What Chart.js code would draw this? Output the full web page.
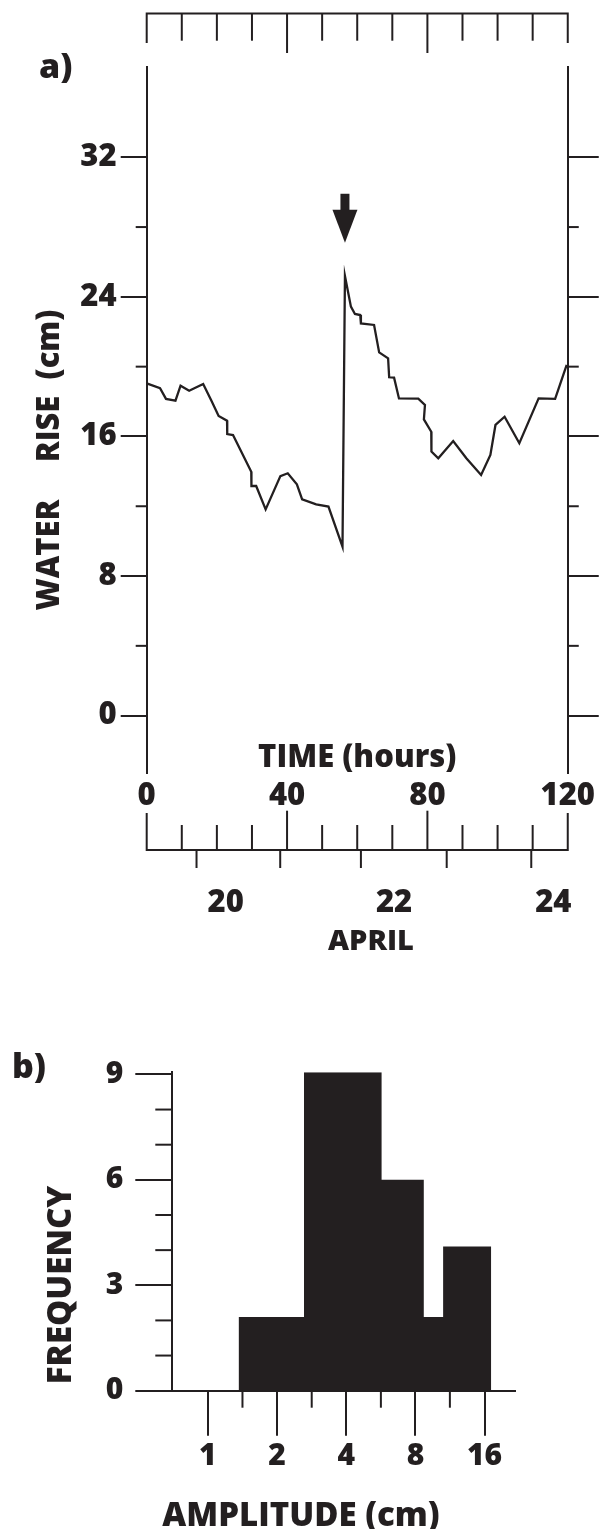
<!DOCTYPE html>
<html>
<head>
<meta charset="utf-8">
<script src="https://cdn.jsdelivr.net/npm/chart.js@4.4.1/dist/chart.umd.min.js"></script>
<style>
  html, body { margin: 0; padding: 0; background: #fff; }
  canvas { display: block; }
</style>
</head>
<body>
<canvas id="riseChart" width="600" height="960"></canvas>
<canvas id="ampChart" width="600" height="569"></canvas>
<script>
// panel a: water rise against time
const hours = [0, 3.8, 5.5, 8.2, 9.65, 12.1, 16.1, 18.45, 20.5, 22.9, 22.95, 24.6, 29.8, 29.85, 31.2, 33.9,
  38.1, 40.2, 42.8, 44.3, 48.3, 51.8, 55.8, 56.5, 58.2, 59.35, 60.85, 61.05, 64.8, 66.25, 68.8, 69.1,
  70.5, 71.9, 77.4, 79.3, 79.0, 81.1, 81.15, 83.1, 87.35, 91.1, 95.3, 97.95, 99.4, 102.0, 106.2, 111.7, 116.4, 119.7];
const rise = [19.04, 18.76, 18.15, 18.05, 18.91, 18.62, 19.01, 18.05, 17.17, 16.9, 16.14, 16.08, 13.98, 13.16, 13.16, 11.82,
  13.73, 13.89, 13.26, 12.4, 12.11, 11.98, 9.68, 25.2, 23.44, 23.02, 22.96, 22.48, 22.39, 20.82, 20.48, 19.39,
  19.37, 18.18, 18.17, 17.8, 16.98, 16.27, 15.13, 14.75, 15.74, 14.75, 13.79, 14.94, 16.66, 17.13, 15.61, 18.18, 18.15, 20.1];

const riseMajor = [0, 8, 16, 24, 32];
const riseMinor = [4, 12, 20, 28];
const hourLabels = [0, 40, 80, 120];
const hourTicks = [0, 10, 20, 30, 40, 50, 60, 70, 80, 90, 100, 110, 120];
const hourLong = [40, 80];
const dayTicks = [14.2, 38.05, 61.05, 85.5, 109.6];
const dayLabels = ['20', '22', '24'];
const dayLabelHours = [22.5, 70.5, 115.9];
const arrowAt = { x: 56.5, y: 27.1 };

// panel b: amplitude histogram
const binEdges = [1.36, 2.62, 5.70, 8.70, 10.56, 17.1];
const frequency = [2.1, 9.1, 6.0, 2.1, 4.1];
const ampLabels = [1, 2, 4, 8, 16];
const ampMinor = [1.414, 2.83, 5.66, 11.3];
const freqMajor = [0, 3, 6, 9];
const freqMinor = [1, 2, 4, 5, 7, 8];

const ink = '#231f20';
const fontFam = '"Open Sans", sans-serif';
Chart.defaults.font.family = fontFam;
Chart.defaults.color = ink;

function boldFont(size) { return '800 ' + size + 'px ' + fontFam; }

function line(ctx, x1, y1, x2, y2) {
  ctx.beginPath();
  ctx.moveTo(x1, y1);
  ctx.lineTo(x2, y2);
  ctx.stroke();
}

const riseFrame = {
  id: 'riseFrame',
  afterDraw(chart) {
    const ctx = chart.ctx;
    const x = chart.scales.x, y = chart.scales.y;
    const area = chart.chartArea;
    ctx.save();
    ctx.strokeStyle = ink;
    ctx.fillStyle = ink;
    ctx.lineWidth = 2;

    // minor ticks on both sides
    riseMinor.forEach(v => {
      const py = y.getPixelForValue(v);
      line(ctx, area.left - 11, py, area.left, py);
      line(ctx, area.right, py, area.right + 11, py);
    });

    const x0 = x.getPixelForValue(0), x1 = x.getPixelForValue(120);

    // top hour bar
    const topY = 13.5;
    ctx.beginPath();
    ctx.moveTo(x0, 43); ctx.lineTo(x0, topY); ctx.lineTo(x1, topY); ctx.lineTo(x1, 43);
    ctx.stroke();
    hourTicks.slice(1, -1).forEach(h => {
      const px = x.getPixelForValue(h);
      line(ctx, px, topY, px, hourLong.includes(h) ? 53 : 40.7);
    });

    // bottom hour / date bar
    const botY = 850;
    ctx.beginPath();
    ctx.moveTo(x0, 813); ctx.lineTo(x0, botY); ctx.lineTo(x1, botY); ctx.lineTo(x1, 813);
    ctx.stroke();
    hourTicks.slice(1, -1).forEach(h => {
      const px = x.getPixelForValue(h);
      line(ctx, px, botY, px, hourLong.includes(h) ? 810.7 : 825);
    });
    dayTicks.forEach(h => {
      const px = x.getPixelForValue(h);
      line(ctx, px, botY, px, 868);
    });

    // arrow marking the jump
    const ax = x.getPixelForValue(arrowAt.x), ay = y.getPixelForValue(arrowAt.y);
    ctx.fillRect(ax - 4.5, ay - 49, 9, 17);
    ctx.beginPath();
    ctx.moveTo(ax - 12.5, ay - 33);
    ctx.lineTo(ax + 12.5, ay - 33);
    ctx.lineTo(ax, ay);
    ctx.closePath();
    ctx.fill();

    // texts
    ctx.textBaseline = 'alphabetic';
    ctx.textAlign = 'left';
    ctx.font = boldFont(34);
    ctx.fillText('a)', 39, 78);

    ctx.textAlign = 'center';
    ctx.font = boldFont(31);
    ctx.fillText('TIME (hours)', (area.left + area.right) / 2, 767);
    dayLabels.forEach((t, i) => ctx.fillText(t, x.getPixelForValue(dayLabelHours[i]), 912));
    ctx.font = boldFont(29);
    ctx.fillText('APRIL', 371, 950);

    ctx.save();
    ctx.translate(50, 0);
    ctx.rotate(-Math.PI / 2);
    ctx.textBaseline = 'middle';
    ctx.font = boldFont(31);
    ctx.fillText('WATER', -555, 0);
    ctx.fillText('RISE', -429, 0);
    ctx.fillText('(cm)', -344.5, 0);
    ctx.restore();

    ctx.restore();
  }
};

new Chart(document.getElementById('riseChart'), {
  type: 'line',
  data: {
    datasets: [{
      data: hours.map((h, i) => ({ x: h, y: rise[i] })),
      borderColor: ink,
      borderWidth: 2.3,
      pointRadius: 0,
      tension: 0,
      fill: false
    }]
  },
  options: {
    responsive: false,
    animation: false,
    events: [],
    layout: { padding: { top: 66.7, left: 0, right: 0, bottom: 0 } },
    plugins: { legend: { display: false }, tooltip: { enabled: false } },
    scales: {
      x: {
        type: 'linear',
        min: 0, max: 120,
        afterBuildTicks: s => { s.ticks = hourLabels.map(v => ({ value: v })); },
        afterFit: s => { s.height = 960 - 772.7; },
        grid: { display: false, drawTicks: false },
        border: { display: false },
        ticks: { font: { size: 31, weight: '800' }, color: ink, padding: 5, autoSkip: false, maxRotation: 0 }
      },
      y: {
        position: 'left',
        min: -3.27, max: 37.19,
        afterBuildTicks: s => { s.ticks = riseMajor.map(v => ({ value: v })); },
        afterFit: s => { s.width = 146.7; },
        grid: { drawOnChartArea: false, tickLength: 26, color: ink, lineWidth: 2 },
        border: { display: true, color: ink, width: 2 },
        ticks: { font: { size: 31, weight: '800' }, color: ink, padding: 4 }
      },
      y2: {
        position: 'right',
        min: -3.27, max: 37.19,
        afterBuildTicks: s => { s.ticks = riseMajor.map(v => ({ value: v })); },
        afterFit: s => { s.width = 600 - 569.5; },
        grid: { drawOnChartArea: false, tickLength: 31, color: ink, lineWidth: 2 },
        border: { display: true, color: ink, width: 2 },
        ticks: { display: false }
      }
    }
  },
  plugins: [riseFrame]
});

// histogram outline built from bin edges
const histPoints = [{ x: binEdges[0], y: 0 }];
frequency.forEach((f, i) => {
  histPoints.push({ x: binEdges[i], y: f });
  histPoints.push({ x: binEdges[i + 1], y: f });
});
histPoints.push({ x: binEdges[binEdges.length - 1], y: 0 });

const ampFrame = {
  id: 'ampFrame',
  afterDraw(chart) {
    const ctx = chart.ctx;
    const x = chart.scales.x, y = chart.scales.y;
    const area = chart.chartArea;
    ctx.save();
    ctx.strokeStyle = ink;
    ctx.fillStyle = ink;
    ctx.lineWidth = 2;
    freqMinor.forEach(v => {
      const py = y.getPixelForValue(v);
      line(ctx, area.left - 17, py, area.left, py);
    });
    ampMinor.forEach(v => {
      const px = x.getPixelForValue(v);
      line(ctx, px, area.bottom, px, area.bottom + 17);
    });

    ctx.textBaseline = 'alphabetic';
    ctx.textAlign = 'left';
    ctx.font = boldFont(34);
    ctx.fillText('b)', 12, 118);

    ctx.textAlign = 'center';
    ctx.font = boldFont(33);
    ctx.fillText('AMPLITUDE (cm)', 301, 566);

    ctx.save();
    ctx.translate(62, 325);
    ctx.rotate(-Math.PI / 2);
    ctx.textBaseline = 'middle';
    ctx.fillText('FREQUENCY', 0, 0);
    ctx.restore();
    ctx.restore();
  }
};

new Chart(document.getElementById('ampChart'), {
  type: 'line',
  data: {
    datasets: [{
      data: histPoints,
      borderWidth: 0,
      borderColor: ink,
      backgroundColor: ink,
      pointRadius: 0,
      tension: 0,
      fill: 'origin',
      clip: false
    }]
  },
  options: {
    responsive: false,
    animation: false,
    events: [],
    layout: { padding: { top: 112.3, right: 85, left: 0, bottom: 0 } },
    plugins: { legend: { display: false }, tooltip: { enabled: false } },
    scales: {
      x: {
        type: 'logarithmic',
        min: 0.709, max: 21.7,
        afterBuildTicks: s => { s.ticks = ampLabels.map(v => ({ value: v })); },
        afterFit: s => { s.height = 569 - 430.7; },
        grid: { drawOnChartArea: false, tickLength: 45, color: ink, lineWidth: 2 },
        border: { display: true, color: ink, width: 2 },
        ticks: { font: { size: 30, weight: '800' }, color: ink, padding: 3, autoSkip: false, maxRotation: 0,
          callback: v => String(v) }
      },
      y: {
        min: 0, max: 9.06,
        afterBuildTicks: s => { s.ticks = freqMajor.map(v => ({ value: v })); },
        afterFit: s => { s.width = 172.3; },
        grid: { drawOnChartArea: false, tickLength: 37, color: ink, lineWidth: 2 },
        border: { display: true, color: ink, width: 2 },
        ticks: { font: { size: 30, weight: '800' }, color: ink, padding: 12 }
      }
    }
  },
  plugins: [ampFrame]
});
</script>
</body>
</html>
